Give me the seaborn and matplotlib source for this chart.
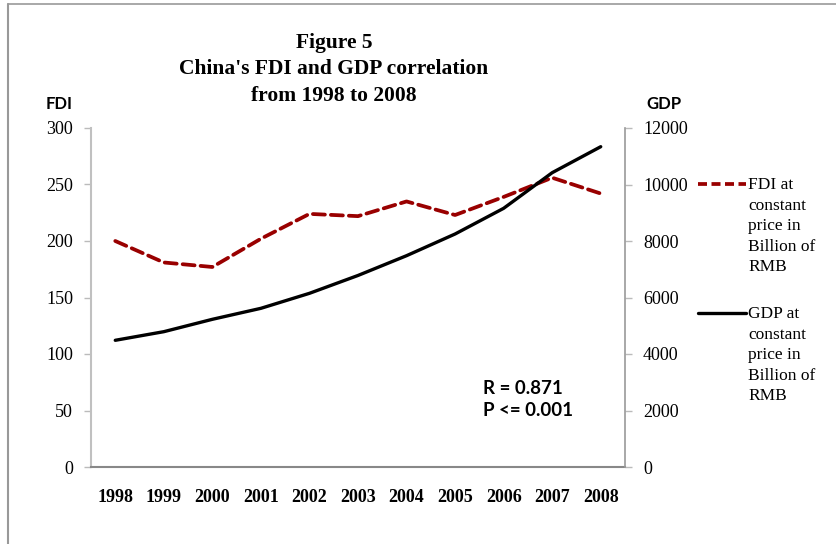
import matplotlib
matplotlib.use("Agg")
import matplotlib.pyplot as plt
from matplotlib.lines import Line2D
import seaborn as sns
import pandas as pd

years = ["1998", "1999", "2000", "2001", "2002", "2003", "2004", "2005", "2006", "2007", "2008"]
fdi = [200, 181, 177, 202, 224, 222, 235, 223, 239, 256, 242]
gdp = [4485, 4790, 5228, 5617, 6148, 6780, 7480, 8248, 9157, 10418, 11338]
fdi_ticks = [0, 50, 100, 150, 200, 250, 300]
gdp_ticks = [0, 2000, 4000, 6000, 8000, 10000, 12000]
title_lines = ["Figure 5", "China's FDI and GDP correlation", "from 1998 to 2008"]
fdi_label = "FDI at\nconstant\nprice in\nBillion of\nRMB"
gdp_label = "GDP at\nconstant\nprice in\nBillion of\nRMB"

df = pd.DataFrame({"pos": list(range(len(years))), "year": years, "fdi": fdi, "gdp": gdp})

sns.set_theme(style="white")
plt.rcParams["font.family"] = ["Liberation Serif", "DejaVu Serif"]
plt.rcParams["text.color"] = "black"
plt.rcParams["xtick.color"] = "black"
plt.rcParams["ytick.color"] = "black"
plt.rcParams["xtick.labelcolor"] = "black"
plt.rcParams["ytick.labelcolor"] = "black"

W, H = 837, 544
fig = plt.figure(figsize=(W / 100, H / 100), dpi=100)
L, R, T, B = 91, 625, 128, 467
ax = fig.add_axes([L / W, 1 - B / H, (R - L) / W, (B - T) / H])
ax2 = ax.twinx()

fdi_color = "#990000"
sns.lineplot(data=df, x="pos", y="fdi", ax=ax, color=fdi_color, lw=2.7,
             dashes=False, legend=False)
ax.lines[0].set_dashes((3.2, 1.6))
ax.lines[0].set_dash_capstyle("round")
sns.lineplot(data=df, x="pos", y="gdp", ax=ax2, color="black", lw=2.4, legend=False)

ax.set_xlim(-0.5, len(years) - 0.5)
ax.set_ylim(0, 300)
ax2.set_ylim(0, 12000)
ax.set_yticks(fdi_ticks)
ax.set_yticklabels([str(v) for v in fdi_ticks], fontsize=13)
ax2.set_yticks(gdp_ticks)
ax2.set_yticklabels([str(v) for v in gdp_ticks], fontsize=13)

ax.set_xticks([i - 0.5 for i in range(len(years) + 1)])
ax.set_xticklabels([])
ax.set_xticks(list(range(len(years))), minor=True)
ax.set_xticklabels(years, minor=True, fontsize=13, fontweight="bold")
ax.tick_params(axis="x", which="major", length=5, width=1, color="#999999", direction="out")
ax.tick_params(axis="x", which="minor", length=0, pad=16)
ax.tick_params(axis="y", length=5, width=1, color="#bbbbbb", direction="out", pad=8, left=True)
ax2.tick_params(axis="y", length=5, width=1, color="#bbbbbb", direction="out", pad=8, right=True)

for a in (ax, ax2):
    a.set_xlabel("")
    a.set_ylabel("")
    a.spines["top"].set_visible(False)
    a.grid(False)
ax.spines["right"].set_visible(False)
ax.spines["left"].set_color("#c0c0c0")
ax.spines["left"].set_linewidth(1.5)
ax.spines["bottom"].set_color("#888888")
ax.spines["bottom"].set_linewidth(1.5)
ax2.spines["left"].set_visible(False)
ax2.spines["bottom"].set_visible(False)
ax2.spines["right"].set_color("#999999")
ax2.spines["right"].set_linewidth(1.2)

# Title
for i, line in enumerate(title_lines):
    fig.text(334 / W, 1 - (43 + i * 26.5) / H, line, ha="center", va="center",
             fontsize=15.5, fontweight="bold")

sans = ["Lato", "DejaVu Sans"]
fig.text(59 / W, 1 - 104 / H, "FDI", ha="center", va="center", fontsize=12,
         fontweight="bold", family=sans)
fig.text(664 / W, 1 - 104 / H, "GDP", ha="center", va="center", fontsize=12,
         fontweight="bold", family=sans)

fig.text(483 / W, 1 - 388 / H, "R = 0.871", ha="left", va="center", fontsize=13.5,
         fontweight="bold", family=sans)
fig.text(483 / W, 1 - 410 / H, "P <= 0.001", ha="left", va="center", fontsize=13.5,
         fontweight="bold", family=sans)

# Legend (manual, beside the chart)
l1 = Line2D([698 / W, 746 / W], [1 - 184 / H] * 2, transform=fig.transFigure,
            color=fdi_color, lw=2.7, dashes=(2.4, 1.2))
l2 = Line2D([698 / W, 746 / W], [1 - 313 / H] * 2, transform=fig.transFigure,
            color="black", lw=2.4)
fig.add_artist(l1)
fig.add_artist(l2)
fig.text(748 / W, 1 - 177 / H, fdi_label, ha="left", va="top", fontsize=12.5,
         linespacing=1.38)
fig.text(748 / W, 1 - 306 / H, gdp_label, ha="left", va="top", fontsize=12.5,
         linespacing=1.38)

# Outer frame (top and left edges)
fig.add_artist(Line2D([8.5 / W, 1], [1 - 4 / H] * 2, transform=fig.transFigure,
                      color="#999999", lw=1.2))
fig.add_artist(Line2D([8.5 / W] * 2, [0, 1 - 4 / H], transform=fig.transFigure,
                      color="#999999", lw=1.5))

fig.savefig("out.png", dpi=100)
